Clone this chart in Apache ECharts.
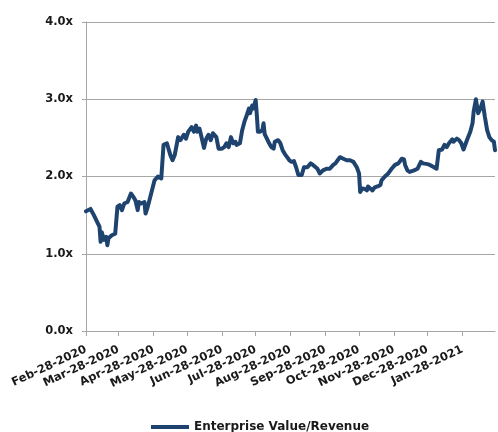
<!DOCTYPE html>
<html>
<head>
<meta charset="utf-8">
<script src="https://cdn.jsdelivr.net/npm/echarts@6/dist/echarts.min.js"></script>
<style>
  html, body { margin: 0; padding: 0; background: #ffffff; }
  #chart { width: 498px; height: 432px; }
</style>
</head>
<body>
<div id="chart"></div>
<script>
// EV / Revenue multiple, daily closes (sampled)
const seriesName = 'Enterprise Value/Revenue';

const dates = [
  '2020-02-28','2020-03-03','2020-03-04','2020-03-06','2020-03-09','2020-03-11','2020-03-12','2020-03-13',
  '2020-03-15','2020-03-17','2020-03-18','2020-03-19','2020-03-22','2020-03-25','2020-03-27','2020-03-29',
  '2020-03-31','2020-04-02','2020-04-05','2020-04-08','2020-04-10','2020-04-12','2020-04-14','2020-04-15',
  '2020-04-17','2020-04-20','2020-04-21','2020-04-23','2020-04-26','2020-04-29','2020-05-02','2020-05-05',
  '2020-05-07','2020-05-10','2020-05-13','2020-05-15','2020-05-17','2020-05-20','2020-05-22','2020-05-25',
  '2020-05-27','2020-05-29','2020-06-01','2020-06-03','2020-06-05','2020-06-06','2020-06-08','2020-06-09',
  '2020-06-12','2020-06-14','2020-06-16','2020-06-18','2020-06-20','2020-06-23','2020-06-25','2020-06-28',
  '2020-06-30','2020-07-02','2020-07-04','2020-07-06','2020-07-08','2020-07-10','2020-07-11','2020-07-14',
  '2020-07-16','2020-07-18','2020-07-20','2020-07-22','2020-07-23','2020-07-25','2020-07-26','2020-07-28',
  '2020-07-29','2020-07-30','2020-08-01','2020-08-03','2020-08-04','2020-08-05','2020-08-07','2020-08-09',
  '2020-08-11','2020-08-13','2020-08-14','2020-08-17','2020-08-19','2020-08-21','2020-08-23','2020-08-25',
  '2020-08-27','2020-08-29','2020-08-31','2020-09-02','2020-09-04','2020-09-07','2020-09-09','2020-09-12',
  '2020-09-15','2020-09-17','2020-09-21','2020-09-23','2020-09-26','2020-09-29','2020-10-02','2020-10-05',
  '2020-10-07','2020-10-09','2020-10-11','2020-10-14','2020-10-17','2020-10-20','2020-10-23','2020-10-26',
  '2020-10-28','2020-10-29','2020-10-31','2020-11-02','2020-11-04','2020-11-05','2020-11-09','2020-11-11',
  '2020-11-14','2020-11-16','2020-11-17','2020-11-20','2020-11-23','2020-11-26','2020-11-29','2020-12-02',
  '2020-12-05','2020-12-07','2020-12-08','2020-12-10','2020-12-12','2020-12-16','2020-12-19','2020-12-22',
  '2020-12-24','2020-12-28','2020-12-30','2021-01-02','2021-01-05','2021-01-07','2021-01-10','2021-01-12',
  '2021-01-14','2021-01-16','2021-01-19','2021-01-20','2021-01-23','2021-01-25','2021-01-27','2021-01-29',
  '2021-02-01','2021-02-04','2021-02-06','2021-02-07','2021-02-09','2021-02-11','2021-02-13','2021-02-15',
  '2021-02-17','2021-02-19','2021-02-21','2021-02-23','2021-02-25','2021-02-26'
];

const values = [
  1.55,1.58,1.57,1.50,1.41,1.35,1.155,1.28,
  1.18,1.22,1.11,1.20,1.24,1.26,1.61,1.63,
  1.565,1.65,1.67,1.78,1.74,1.69,1.565,1.67,
  1.65,1.67,1.52,1.61,1.78,1.95,2.00,1.975,
  2.41,2.43,2.28,2.21,2.28,2.51,2.47,2.54,
  2.49,2.58,2.64,2.58,2.66,2.58,2.62,2.56,
  2.37,2.49,2.54,2.47,2.56,2.51,2.36,2.36,
  2.38,2.43,2.38,2.51,2.43,2.45,2.41,2.43,
  2.60,2.71,2.79,2.88,2.82,2.92,2.88,2.99,
  2.80,2.58,2.58,2.60,2.69,2.55,2.49,2.43,
  2.38,2.36,2.45,2.47,2.43,2.34,2.29,2.25,
  2.21,2.19,2.20,2.12,2.02,2.02,2.12,2.12,
  2.17,2.15,2.10,2.04,2.08,2.10,2.10,2.15,
  2.17,2.21,2.25,2.23,2.21,2.21,2.19,2.12,
  2.04,1.80,1.845,1.84,1.82,1.87,1.82,1.86,
  1.875,1.89,1.95,2.00,2.04,2.10,2.15,2.17,
  2.23,2.22,2.15,2.08,2.06,2.08,2.10,2.19,
  2.17,2.16,2.15,2.125,2.10,2.34,2.35,2.41,
  2.38,2.43,2.48,2.45,2.49,2.47,2.43,2.35,
  2.47,2.58,2.69,2.84,3.00,2.82,2.88,2.97,
  2.77,2.60,2.51,2.47,2.45,2.34
];

// Monthly tick dates on the x axis
const tickDates = [
  '2020-02-28','2020-03-28','2020-04-28','2020-05-28','2020-06-28','2020-07-28',
  '2020-08-28','2020-09-28','2020-10-28','2020-11-28','2020-12-28','2021-01-28'
];
const axisStart = '2020-02-28';
const axisEnd = '2021-02-26';

const monthNames = ['Jan','Feb','Mar','Apr','May','Jun','Jul','Aug','Sep','Oct','Nov','Dec'];

function toTime(s) {
  const p = s.split('-').map(Number);
  return Date.UTC(p[0], p[1] - 1, p[2]);
}
function fmtDate(t) {
  const d = new Date(t);
  const dd = String(d.getUTCDate()).padStart(2, '0');
  return monthNames[d.getUTCMonth()] + '-' + dd + '-' + d.getUTCFullYear();
}

const tickTimes = tickDates.map(toTime);
const points = dates.map((d, i) => [toTime(d), values[i]]);

const FONT = 'DejaVu Sans';
const TEXT = '#1a1a1a';
const GRID = '#a6a6a6';
const LINE = '#1f436f';

const chart = echarts.init(document.getElementById('chart'), null, { renderer: 'canvas' });
chart.setOption({
  animation: false,
  backgroundColor: '#ffffff',
  grid: { left: 86, right: 3, top: 22, bottom: 101, containLabel: false },
  legend: {
    data: [seriesName],
    left: 151,
    top: 421,
    padding: 0,
    icon: 'rect',
    itemWidth: 38,
    itemHeight: 4,
    itemStyle: { color: LINE },
    textStyle: { fontFamily: FONT, fontWeight: 'bold', fontSize: 12, color: TEXT }
  },
  // dates are plotted as UTC timestamps on a linear axis
  xAxis: {
    type: 'value',
    min: toTime(axisStart),
    max: toTime(axisEnd),
    axisLine: { show: true, lineStyle: { color: GRID, width: 1 } },
    axisTick: { show: true, length: 5, customValues: tickTimes, lineStyle: { color: GRID, width: 1 } },
    axisLabel: {
      customValues: tickTimes,
      rotate: 25,
      margin: 18,
      hideOverlap: false,
      formatter: (v) => fmtDate(v),
      fontFamily: FONT,
      fontWeight: 'bold',
      fontSize: 11.5,
      color: TEXT
    },
    splitLine: { show: false }
  },
  yAxis: {
    type: 'value',
    min: 0,
    max: 4,
    interval: 1,
    axisLine: { show: true, lineStyle: { color: GRID, width: 1 } },
    axisTick: { show: true, length: 4, lineStyle: { color: GRID, width: 1 } },
    axisLabel: {
      margin: 13,
      formatter: (v) => v.toFixed(1) + 'x',
      fontFamily: FONT,
      fontWeight: 'bold',
      fontSize: 11.5,
      color: TEXT
    },
    splitLine: { show: true, lineStyle: { color: GRID, width: 1.2 } }
  },
  series: [{
    name: seriesName,
    type: 'line',
    data: points,
    showSymbol: false,
    symbol: 'none',
    lineStyle: { color: LINE, width: 4, join: 'round', cap: 'round' },
    itemStyle: { color: LINE }
  }]
});
</script>
</body>
</html>
